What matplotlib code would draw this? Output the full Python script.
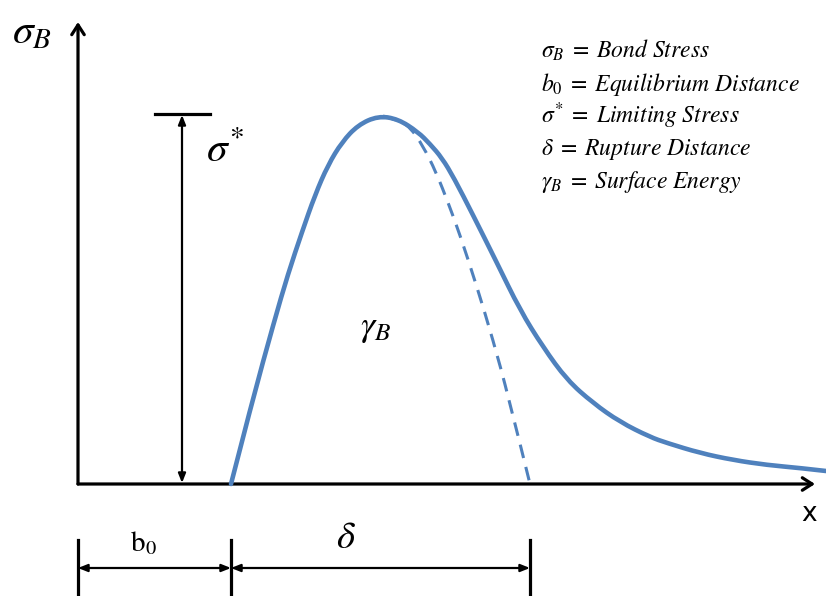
import matplotlib
matplotlib.use("Agg")
import matplotlib.pyplot as plt
from matplotlib.path import Path
from matplotlib.patches import PathPatch

plt.rcParams["mathtext.fontset"] = "stix"

# Bond stress vs. separation (arbitrary units, origin at the axes corner)
disp_solid = [153, 174, 196, 210, 224, 237, 250, 264, 280, 300, 320, 340,
              352, 364, 376, 395, 419, 442, 465, 489, 515, 542, 572, 589,
              622, 655, 689, 722, 748]
stress_solid = [0, 82, 162, 210, 252, 289, 319, 342, 359, 368, 365, 352,
                340, 326, 306, 269, 221, 174, 137, 104, 81, 62, 47, 41,
                31, 24, 19, 16, 13]

# Linearised unloading branch ending at the rupture distance
disp_dashed = [305, 320, 332, 345, 358, 371, 382, 399, 415, 430, 452]
stress_dashed = [368, 364, 357, 338, 312, 279, 249, 197, 144, 89, 0]

b0 = 153          # equilibrium distance
rupture = 452     # b0 + delta
sigma_star = 369  # limiting stress

legend_lines = [
    r"$\sigma_B\;=\;\mathit{Bond\ Stress}$",
    r"$b_0\;=\;\mathit{Equilibrium\ Distance}$",
    r"$\sigma^{*}\;=\;\mathit{Limiting\ Stress}$",
    r"$\delta\;=\;\mathit{Rupture\ Distance}$",
    r"$\gamma_B\;=\;\mathit{Surface\ Energy}$",
]

blue = "#4F81BD"


def smooth_path(xs, ys):
    """Quadratic B-spline through the midpoints of the given vertices."""
    pts = list(zip(xs, ys))
    verts = [pts[0]]
    codes = [Path.MOVETO]
    for i in range(1, len(pts) - 1):
        mid = ((pts[i][0] + pts[i + 1][0]) / 2, (pts[i][1] + pts[i + 1][1]) / 2)
        if i == len(pts) - 2:
            mid = pts[-1]
        verts += [pts[i], mid]
        codes += [Path.CURVE3, Path.CURVE3]
    return Path(verts, codes)


fig = plt.figure(figsize=(8.26, 5.96), dpi=100)
ax = fig.add_axes([0, 0, 1, 1])
ax.set_xlim(-78, 748)
ax.set_ylim(-112, 484)
ax.axis("off")

# Coordinate axes
axis_kw = dict(arrowstyle="->,head_length=0.7,head_width=0.45", lw=2.3,
               color="black", shrinkA=0, shrinkB=0)
ax.annotate("", xy=(0, 462), xytext=(0, 0), arrowprops=axis_kw)
ax.annotate("", xy=(737, 0), xytext=(0, 0), arrowprops=axis_kw)

# Curves
ax.add_patch(PathPatch(smooth_path(disp_solid, stress_solid), fill=False,
                       edgecolor=blue, lw=3.3, capstyle="round",
                       joinstyle="round", zorder=3))
ax.add_patch(PathPatch(smooth_path(disp_dashed, stress_dashed), fill=False,
                       edgecolor=blue, lw=2.2, ls=(0, (4.5, 3)), zorder=3))

# Limiting stress marker
dim_kw = dict(arrowstyle="<|-|>,head_length=0.55,head_width=0.22", lw=1.6,
              color="black", shrinkA=0, shrinkB=0)
ax.plot([77, 132], [sigma_star + 1, sigma_star + 1], color="black", lw=2.3)
ax.annotate("", xy=(104, sigma_star), xytext=(104, 1), arrowprops=dim_kw)

# Dimension lines below the x axis
for xv in (0, b0, rupture):
    ax.plot([xv, xv], [-56, -112], color="black", lw=2.3)
ax.annotate("", xy=(0, -84), xytext=(b0, -84), arrowprops=dim_kw)
ax.annotate("", xy=(b0, -84), xytext=(rupture, -84), arrowprops=dim_kw)

# Labels
ax.text(-66, 474, r"$\sigma_B$", fontsize=30, ha="left", va="top")
ax.text(128, 334, r"$\sigma^{*}$", fontsize=30, ha="left", va="center")
ax.text(282, 156, r"$\gamma_B$", fontsize=26, ha="left", va="center")
ax.text(268, -53, r"$\delta$", fontsize=28, ha="center", va="center")
ax.text(65, -59, r"$\mathrm{b}_0$", fontsize=21, ha="center", va="center")
ax.text(731, -30, "x", fontsize=19, family="DejaVu Sans", ha="center",
        va="center")

for i, line in enumerate(legend_lines):
    ax.text(463, 426 - i * 32.5, line, fontsize=17, ha="left",
            va="baseline")

fig.savefig("out.png", dpi=100)
